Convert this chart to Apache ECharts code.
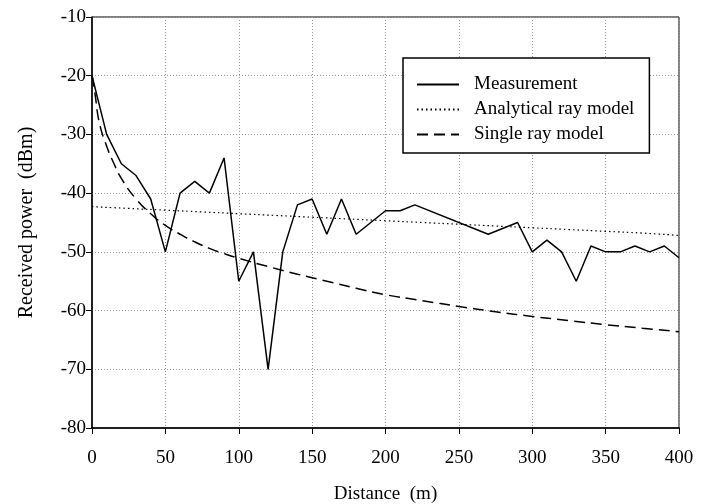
<!DOCTYPE html>
<html>
<head>
<meta charset="UTF-8">
<title></title>
<script src="https://cdn.jsdelivr.net/npm/echarts@6/dist/echarts.min.js"></script>
<style>
  html, body { margin: 0; padding: 0; background: #fff; }
  #main { width: 707px; height: 504px; }
</style>
</head>
<body>
<div id="main"></div>
<script>
// measurement samples (m, dBm)
var measDist = [0, 10, 20, 30, 40, 50, 60, 70, 80, 90, 100, 110, 120, 130, 140, 150, 160, 170, 180, 200, 210, 220, 270, 290, 300, 310, 320, 330, 340, 350, 360, 370, 380, 390, 400];
var measPower = [-20, -30, -35, -37, -41, -50, -40, -38, -40, -34, -55, -50, -70, -50, -42, -41, -47, -41, -47, -43, -43, -42, -47, -45, -50, -48, -50, -55, -49, -50, -50, -49, -50, -49, -51];

// analytical ray model
var anaDist = [0, 25, 50, 75, 100, 125, 150, 175, 200, 225, 250, 275, 300, 325, 350, 375, 400];
var anaPower = [-42.3, -42.6, -42.9, -43.2, -43.5, -43.8, -44.1, -44.4, -44.7, -45.0, -45.3, -45.6, -45.9, -46.2, -46.5, -46.8, -47.2];

// single ray model
var srDist = [0, 2, 5, 10, 15, 20, 30, 40, 50, 60, 70, 80, 90, 100, 120, 140, 160, 180, 200, 225, 250, 275, 300, 325, 350, 375, 400];
var srPower = [-20, -23, -28, -32, -35, -37.5, -41, -43.5, -45.5, -47, -48.3, -49.4, -50.3, -51.1, -52.5, -53.8, -55, -56.2, -57.3, -58.3, -59.3, -60.2, -61, -61.7, -62.4, -63, -63.6];

function pairs(xs, ys) {
  var out = [];
  for (var i = 0; i < xs.length; i++) out.push([xs[i], ys[i]]);
  return out;
}

var font = '"Liberation Serif", "Times New Roman", serif';
var chart = echarts.init(document.getElementById('main'));
var option = {
  animation: false,
  textStyle: { fontFamily: font },
  grid: {
    left: 92, top: 17, right: 28, bottom: 76,
    outerBoundsMode: 'none', containLabel: false,
    show: true, borderColor: '#000', borderWidth: 1
  },
  legend: {
    orient: 'vertical',
    left: 403, top: 58,
    padding: [17, 15, 9, 13],
    itemWidth: 42, itemHeight: 14, itemGap: 6,
    backgroundColor: '#fff',
    borderColor: '#000', borderWidth: 1.5,
    itemStyle: { opacity: 0 },
    textStyle: { fontFamily: font, fontSize: 19, color: '#000', padding: [0, 0, 0, 10] },
    data: ['Measurement', 'Analytical ray model', 'Single ray model']
  },
  xAxis: {
    type: 'value', min: 0, max: 400, interval: 50,
    name: 'Distance  (m)', nameLocation: 'middle', nameGap: 57,
    nameTextStyle: { fontFamily: font, fontSize: 19, color: '#000' },
    axisLine: { lineStyle: { color: '#000', width: 1.5 } },
    axisTick: { show: true, length: 6, lineStyle: { color: '#000' } },
    axisLabel: { fontFamily: font, fontSize: 19, color: '#000', margin: 21 },
    splitLine: { show: true, lineStyle: { color: '#999', type: [1, 2], width: 1 } }
  },
  yAxis: {
    type: 'value', min: -80, max: -10, interval: 10,
    name: 'Received power  (dBm)', nameLocation: 'middle', nameGap: 55,
    nameTextStyle: { fontFamily: font, fontSize: 20, color: '#000' },
    axisLine: { show: true, lineStyle: { color: '#000', width: 1.5 } },
    axisTick: { show: true, length: 6, lineStyle: { color: '#000' } },
    axisLabel: { fontFamily: font, fontSize: 19, color: '#000', margin: 6 },
    splitLine: { show: true, lineStyle: { color: '#999', type: [1, 2], width: 1 } }
  },
  series: [
    {
      name: 'Measurement', type: 'line', symbol: 'none',
      data: pairs(measDist, measPower),
      lineStyle: { color: '#000', width: 1.5 },
      itemStyle: { color: '#000' }, z: 4
    },
    {
      name: 'Analytical ray model', type: 'line', symbol: 'none', smooth: true,
      data: pairs(anaDist, anaPower),
      lineStyle: { color: '#000', width: 1.2, type: [1.5, 3] },
      itemStyle: { color: '#000' }, z: 3
    },
    {
      name: 'Single ray model', type: 'line', symbol: 'none', smooth: true,
      data: pairs(srDist, srPower),
      lineStyle: { color: '#000', width: 1.5, type: [11, 6] },
      itemStyle: { color: '#000' }, z: 3
    }
  ]
};
chart.setOption(option);
</script>
</body>
</html>
